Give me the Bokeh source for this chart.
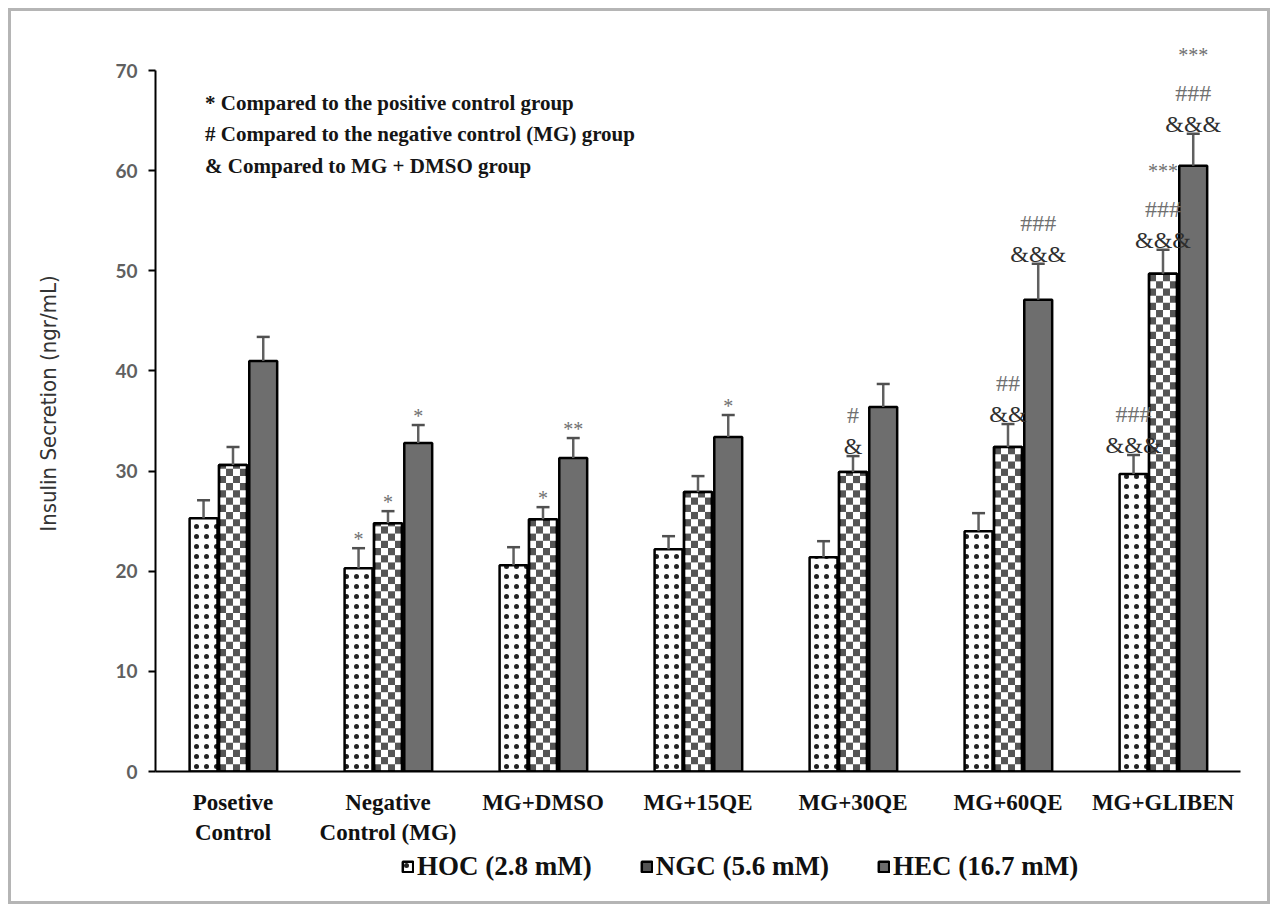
import numpy as np
from bokeh.plotting import figure
from bokeh.layouts import column
from bokeh.models import Range1d, FixedTicker, Legend, LegendItem, Label
from bokeh.core.properties import value
from bokeh.embed import file_html
from bokeh.resources import INLINE

# ---------------- data ----------------
groups = ["Posetive\nControl", "Negative\nControl (MG)", "MG+DMSO", "MG+15QE",
          "MG+30QE", "MG+60QE", "MG+GLIBEN"]
series = ["HOC (2.8 mM)", "NGC (5.6 mM)", "HEC (16.7 mM)"]
hoc = [25.3, 20.3, 20.6, 22.2, 21.4, 24.0, 29.7]
hoc_err = [1.8, 2.0, 1.8, 1.3, 1.6, 1.8, 1.9]
ngc = [30.6, 24.8, 25.2, 27.9, 29.9, 32.4, 49.7]
ngc_err = [1.8, 1.2, 1.2, 1.6, 1.6, 2.3, 2.4]
hec = [41.0, 32.8, 31.3, 33.4, 36.4, 47.1, 60.5]
hec_err = [2.4, 1.8, 2.0, 2.2, 2.3, 3.6, 3.2]
y_ticks = [0, 10, 20, 30, 40, 50, 60, 70]
notes = ["* Compared to the positive  control group",
         "# Compared to the negative control (MG) group",
         "& Compared to MG + DMSO group"]
# (group index, series index, lines from bottom to top)
marks = [
    (1, 0, ["*"]), (1, 1, ["*"]), (1, 2, ["*"]),
    (2, 1, ["*"]), (2, 2, ["**"]),
    (3, 2, ["*"]),
    (4, 1, ["&", "#"]),
    (5, 1, ["&&", "##"]), (5, 2, ["&&&", "###"]),
    (6, 0, ["&&&", "###"]), (6, 1, ["&&&", "###", "***"]), (6, 2, ["&&&", "###", "***"]),
]

# ---------------- figure ----------------
W, H = 1256, 840
p = figure(width=W, height=H, output_backend="svg", toolbar_location=None,
           x_range=Range1d(0, 7), y_range=Range1d(0, 73.5),
           min_border_left=144, min_border_right=27, min_border_top=24,
           min_border_bottom=80)
p.background_fill_color = "white"
p.border_fill_color = "white"
p.outline_line_color = None
p.xgrid.visible = False
p.ygrid.visible = False

n = len(groups)
centers = np.arange(n) + 0.5
bw = 0.18
offs = [-0.19, 0.0, 0.195]
vals = [hoc, ngc, hec]
errs = [hoc_err, ngc_err, hec_err]

HOC_STYLE = dict(fill_color="white", line_color="black", line_width=2.5,
                 hatch_pattern=".", hatch_color="#222222", hatch_scale=10, hatch_weight=1.3)
NGC_STYLE = dict(fill_color="#555555", line_color="black", line_width=2.5)
HEC_STYLE = dict(fill_color="#6e6e6e", line_color="black", line_width=2.5)

# HOC bars (dotted)
p.vbar(x=centers + offs[0], top=hoc, width=bw, bottom=0, **HOC_STYLE)

# NGC bars (checkerboard): dark base + white cells
p.vbar(x=centers + offs[1], top=ngc, width=bw, bottom=0, **NGC_STYLE)
cell_h = 0.72
L, R, B, T = [], [], [], []
for i, v in enumerate(ngc):
    xc = centers[i] + offs[1]
    x0 = xc - bw / 2
    cw = bw / 4
    nrows = int(np.ceil(v / cell_h))
    for r in range(nrows):
        for j in range(4):
            if (r + j) % 2 == 1:
                L.append(x0 + j * cw)
                R.append(x0 + (j + 1) * cw)
                B.append(r * cell_h)
                T.append(min((r + 1) * cell_h, v))
p.quad(left=L, right=R, bottom=B, top=T, fill_color="white", line_color=None)
p.vbar(x=centers + offs[1], top=ngc, width=bw, bottom=0,
       fill_color=None, line_color="black", line_width=2.5)

# HEC bars
p.vbar(x=centers + offs[2], top=hec, width=bw, bottom=0, **HEC_STYLE)

# error bars
for s in range(3):
    xs = centers + offs[s]
    v = np.array(vals[s])
    e = np.array(errs[s])
    p.segment(x0=xs, y0=v, x1=xs, y1=v + e, line_color="#606060", line_width=2.5)
    p.scatter(x=xs, y=v + e, marker="dash", size=13, line_color="#505050", line_width=2.5)

# significance marks
mx, my, mt, mcol, msize = [], [], [], [], []
for g, s, lines in marks:
    cap = vals[s][g] + errs[s][g]
    x = centers[g] + offs[s]
    for k, t in enumerate(lines):
        if lines == ["*"] or lines == ["**"]:
            y = cap + 0.9
        else:
            y = cap + 1.0 + 3.1 * k
            if t[0] == "*":
                y += 0.7
        mx.append(x)
        my.append(y)
        mt.append(t)
        mcol.append("#2e2e2e" if t[0] == "&" else "#707070")
        msize.append("24px" if t[0] == "&" else ("24px" if t[0] == "#" else "20px"))
p.text(x=mx, y=my, text=mt, text_color=mcol, text_font_size=msize,
       text_font=value("Liberation Serif"), text_align="center", text_baseline="middle")

# notes
for k, t in enumerate(notes):
    p.add_layout(Label(x=0.32, y=66.8 - 3.15 * k, text=t, text_font="Liberation Serif",
                       text_font_size="21px", text_font_style="bold", text_color="#151515",
                       text_baseline="middle"))

# axes
p.yaxis.ticker = FixedTicker(ticks=y_ticks)
p.yaxis.bounds = (0, 70)
p.yaxis.axis_line_width = 2
p.yaxis.axis_line_color = "black"
p.yaxis.major_tick_line_width = 2
p.yaxis.major_tick_in = 0
p.yaxis.major_tick_out = 7
p.yaxis.minor_tick_line_color = None
p.yaxis.major_label_text_font = "Lato"
p.yaxis.major_label_text_font_size = "19px"
p.yaxis.major_label_text_font_style = "bold"
p.yaxis.major_label_text_color = "#606060"
p.yaxis.major_label_standoff = 11
p.yaxis.axis_label = "Insulin Secretion (ngr/mL)"
p.yaxis.axis_label_text_font = "DejaVu Sans Condensed"
p.yaxis.axis_label_text_font_size = "22px"
p.yaxis.axis_label_text_font_style = "normal"
p.yaxis.axis_label_text_color = "#333333"
p.yaxis.axis_label_standoff = 51

p.xaxis.ticker = FixedTicker(ticks=list(centers))
p.xaxis.major_label_overrides = {float(c): g for c, g in zip(centers, groups)}
p.xaxis.axis_line_width = 2
p.xaxis.axis_line_color = "black"
p.xaxis.major_tick_line_color = None
p.xaxis.minor_tick_line_color = None
p.xaxis.major_label_text_font = "Liberation Serif"
p.xaxis.major_label_text_font_size = "23px"
p.xaxis.major_label_text_font_style = "bold"
p.xaxis.major_label_text_color = "#111111"
p.xaxis.major_label_standoff = 12

# ---------------- legend strip ----------------
pl = figure(width=W, height=50, output_backend="svg", toolbar_location=None,
            x_range=Range1d(0, 1), y_range=Range1d(0, 1), min_border=0)
pl.axis.visible = False
pl.grid.visible = False
pl.outline_line_color = None
pl.background_fill_color = "white"
pl.border_fill_color = "white"
# legend-only renderers: a tiny bar hidden behind the opaque legend box
lr_hoc = pl.vbar(x=[0.55], bottom=[0.5], top=[0.5001], width=0.0001, **HOC_STYLE)
lr_ngc = pl.vbar(x=[0.55], bottom=[0.5], top=[0.5001], width=0.0001, **NGC_STYLE)
lr_hec = pl.vbar(x=[0.55], bottom=[0.5], top=[0.5001], width=0.0001, **HEC_STYLE)
legend = Legend(items=[LegendItem(label=series[0], renderers=[lr_hoc]),
                       LegendItem(label=series[1], renderers=[lr_ngc]),
                       LegendItem(label=series[2], renderers=[lr_hec])],
                orientation="horizontal", location=(246, 19))
legend.label_text_font = "Liberation Serif"
legend.label_text_font_size = "27px"
legend.label_text_font_style = "bold"
legend.label_text_color = "#111111"
legend.glyph_width = 13
legend.glyph_height = 13
legend.label_standoff = 3
legend.spacing = 48
legend.border_line_color = None
legend.background_fill_color = "white"
legend.background_fill_alpha = 1
legend.padding = 4
legend.margin = 0
pl.add_layout(legend, "center")

layout = column(p, pl, spacing=0)
layout.styles = {"border": "3px solid #b5b5b5", "margin": "8px 0 0 8px"}

open("out.html", "w").write(file_html(layout, INLINE))
